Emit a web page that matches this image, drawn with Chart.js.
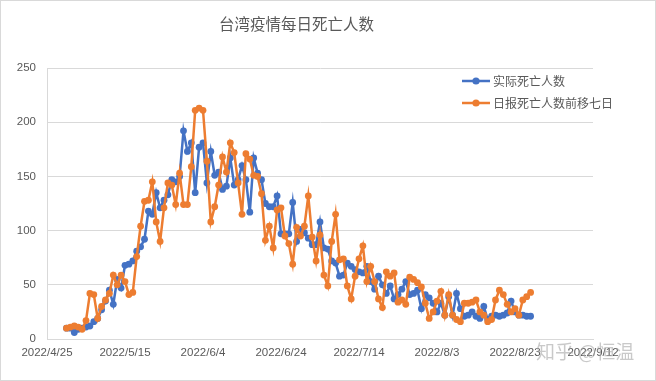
<!DOCTYPE html>
<html><head><meta charset="utf-8">
<script src="https://cdn.jsdelivr.net/npm/chart.js@4.4.1/dist/chart.umd.min.js"></script>
<style>html,body{margin:0;padding:0;background:#fff}#wrap{width:656px;height:381px;position:relative}</style>
</head><body><div id="wrap"><canvas id="c" width="656" height="381"></canvas></div>
<script>
const chartTitle = '台湾疫情每日死亡人数';
const seriesNames = ['实际死亡人数', '日报死亡人数前移七日'];
const watermark = '知乎 @恒温';
const tickLabels = ['2022/4/25','2022/5/15','2022/6/4','2022/6/24','2022/7/14','2022/8/3','2022/8/23','2022/9/12'];
const dates = [
 '2022/4/30',
 '2022/5/1','2022/5/2','2022/5/3','2022/5/4','2022/5/5','2022/5/6','2022/5/7','2022/5/8','2022/5/9','2022/5/10',
 '2022/5/11','2022/5/12','2022/5/13','2022/5/14','2022/5/15','2022/5/16','2022/5/17','2022/5/18','2022/5/19','2022/5/20',
 '2022/5/21','2022/5/22','2022/5/23','2022/5/24','2022/5/25','2022/5/26','2022/5/27','2022/5/28','2022/5/29','2022/5/30','2022/5/31',
 '2022/6/1','2022/6/2','2022/6/3','2022/6/4','2022/6/5','2022/6/6','2022/6/7','2022/6/8','2022/6/9','2022/6/10',
 '2022/6/11','2022/6/12','2022/6/13','2022/6/14','2022/6/15','2022/6/16','2022/6/17','2022/6/18','2022/6/19','2022/6/20',
 '2022/6/21','2022/6/22','2022/6/23','2022/6/24','2022/6/25','2022/6/26','2022/6/27','2022/6/28','2022/6/29','2022/6/30',
 '2022/7/1','2022/7/2','2022/7/3','2022/7/4','2022/7/5','2022/7/6','2022/7/7','2022/7/8','2022/7/9','2022/7/10',
 '2022/7/11','2022/7/12','2022/7/13','2022/7/14','2022/7/15','2022/7/16','2022/7/17','2022/7/18','2022/7/19','2022/7/20',
 '2022/7/21','2022/7/22','2022/7/23','2022/7/24','2022/7/25','2022/7/26','2022/7/27','2022/7/28','2022/7/29','2022/7/30','2022/7/31',
 '2022/8/1','2022/8/2','2022/8/3','2022/8/4','2022/8/5','2022/8/6','2022/8/7','2022/8/8','2022/8/9','2022/8/10',
 '2022/8/11','2022/8/12','2022/8/13','2022/8/14','2022/8/15','2022/8/16','2022/8/17','2022/8/18','2022/8/19','2022/8/20',
 '2022/8/21','2022/8/22','2022/8/23','2022/8/24','2022/8/25','2022/8/26','2022/8/27'
];
const actualDeaths = [
 10,10,6,9,10,11,12,16,19,27,
 35,45,32,55,47,68,69,72,81,85,
 92,118,115,135,121,128,133,147,145,150,
 192,173,181,135,177,181,144,173,151,154,
 138,141,167,142,147,160,147,117,167,153,
 147,125,122,122,132,97,97,97,126,90,
 101,98,93,87,87,108,84,83,72,70,
 58,59,70,67,64,62,61,67,53,46,
 58,50,42,49,37,41,
 46,53,41,42,45,28,41,38,33,25,33,22,39,22,42,28,21,22,25,21,19,30,18,21,22,21,22,24,35,25,22,22,21,21
];
const reportedShifted = [
 10,11,12,11,9,17,42,41,19,30,
 36,42,59,50,59,53,41,43,76,104,
 127,128,145,108,90,121,144,142,124,153,
 124,124,159,211,213,211,164,108,122,142,
 168,154,181,172,144,115,171,166,151,150,
 134,91,104,84,119,121,95,88,69,103,
 95,104,132,94,72,96,59,49,90,115,
 73,74,49,37,58,74,86,53,67,53,
 37,29,62,58,61,34,
 36,32,57,55,52,48,33,19,25,35,44,22,41,22,18,16,33,33,34,36,25,22,16,18,36,45,41,32,25,28,22,36,39,43
];
const yTicks = [0, 50, 100, 150, 200, 250];

function dayOf(s){const p=s.split('/').map(Number);return Date.UTC(p[0],p[1]-1,p[2])/864e5;}
const origin = dayOf(tickLabels[0]);
const xOf = s => dayOf(s) - origin;
const tickDays = tickLabels.map(xOf);

const BLUE = '#4472C4', ORANGE = '#ED7D31', TXT = '#595959', GRID = '#d9d9d9';
const FONT = "'Noto Sans CJK SC', 'Noto Sans', sans-serif";
const NUMFONT = "'Liberation Sans', Arial, sans-serif";

const extras = {
  id: 'extras',
  afterDraw(chart) {
    const ctx = chart.ctx, a = chart.chartArea;
    ctx.save();
    ctx.strokeStyle = GRID; ctx.lineWidth = 1;
    ctx.strokeRect(0.5, 0.5, chart.width - 1, chart.height - 1);
    const items = [{n: seriesNames[0], c: BLUE}, {n: seriesNames[1], c: ORANGE}];
    items.forEach((it, i) => {
      const y = a.top + 13 + i * 22;
      const x0 = a.right - 131;
      ctx.strokeStyle = it.c; ctx.lineWidth = 2.5;
      ctx.beginPath(); ctx.moveTo(x0, y); ctx.lineTo(x0 + 28, y); ctx.stroke();
      ctx.fillStyle = it.c; ctx.beginPath(); ctx.arc(x0 + 14, y, 3.6, 0, Math.PI * 2); ctx.fill();
      ctx.fillStyle = TXT; ctx.font = '12px ' + FONT; ctx.textBaseline = 'middle'; ctx.textAlign = 'left';
      ctx.fillText(it.n, x0 + 31, y);
    });
    ctx.font = '19px ' + FONT; ctx.textAlign = 'left'; ctx.textBaseline = 'middle';
    ctx.fillStyle = 'rgba(165,165,165,0.6)';
    ctx.fillText(watermark, 536, 352);
    ctx.restore();
  }
};

new Chart(document.getElementById('c'), {
  type: 'line',
  data: {
    datasets: [
      { label: seriesNames[0], data: dates.map((d, i) => ({x: xOf(d), y: actualDeaths[i]})),
        borderColor: BLUE, backgroundColor: BLUE, borderWidth: 2.5, pointRadius: 3.4, pointBorderWidth: 0,
        tension: 0, order: 1 },
      { label: seriesNames[1], data: dates.map((d, i) => ({x: xOf(d), y: reportedShifted[i]})),
        borderColor: ORANGE, backgroundColor: ORANGE, borderWidth: 2.5, pointRadius: 3.4, pointBorderWidth: 0,
        tension: 0, order: 0 }
    ]
  },
  options: {
    responsive: false, animation: false, devicePixelRatio: 1,
    layout: { padding: { left: 0, right: 63, top: 0, bottom: 0 } },
    plugins: {
      legend: { display: false }, tooltip: { enabled: false },
      title: { display: true, text: chartTitle, color: TXT, font: { family: FONT, size: 15.5, weight: 'normal' },
        padding: { top: 15, bottom: 34.4 } }
    },
    scales: {
      x: { type: 'linear', min: tickDays[0], max: tickDays[tickDays.length - 1],
        afterBuildTicks: s => { s.ticks = tickDays.map(v => ({value: v})); },
        afterFit: s => { s.height = 42; },
        grid: { display: false, drawTicks: false },
        border: { display: true, color: GRID, width: 1 },
        ticks: { color: TXT, font: { family: NUMFONT, size: 11.5 }, padding: 7, maxRotation: 0, autoSkip: false,
          callback: v => tickLabels[tickDays.indexOf(v)] } },
      y: { min: yTicks[0], max: yTicks[yTicks.length - 1],
        afterBuildTicks: s => { s.ticks = yTicks.map(v => ({value: v})); },
        afterFit: s => { s.width = 47; },
        grid: { color: GRID, drawTicks: false, lineWidth: 1 },
        border: { display: true, color: GRID, width: 1 },
        ticks: { color: TXT, font: { family: NUMFONT, size: 11.5 }, padding: 11 } }
    }
  },
  plugins: [extras]
});
</script></body></html>
